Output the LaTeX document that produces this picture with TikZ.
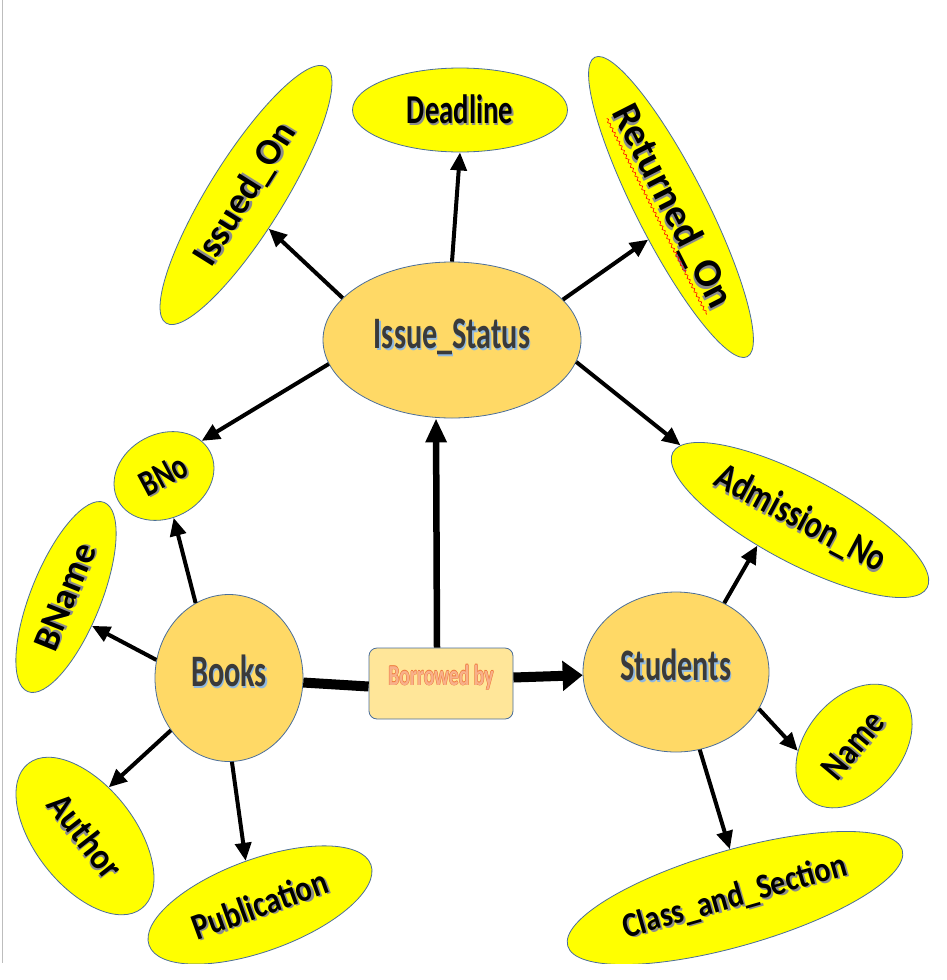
\documentclass[tikz,border=0pt]{standalone}
\usepackage{fontspec}
\setmainfont{Carlito}
\usepackage{graphicx}
\usetikzlibrary{arrows.meta,shapes.geometric,decorations.pathmorphing}
\definecolor{entfill}{HTML}{FFD966}
\definecolor{relfill}{HTML}{FFE699}
\definecolor{attfill}{HTML}{FFFF00}
\definecolor{edgec}{HTML}{4A6E9A}
\definecolor{enttext}{HTML}{3A3A3A}
\definecolor{entshadow}{HTML}{8FB8E0}
\definecolor{attshadow}{HTML}{8C8C8C}
\definecolor{reltext}{HTML}{F8B08A}
\definecolor{relline}{HTML}{EE7A3C}
\definecolor{framec}{HTML}{BDBDBD}
\newcommand\shtext[4]{\scalebox{#2}[1]{\fontsize{#1}{#1}\selectfont\bfseries\rlap{\kern2pt\raisebox{-2pt}{\textcolor{#3}{#4}}}#4}}
\newcommand\rtext[1]{\scalebox{0.68}[1]{\fontsize{29pt}{29pt}\selectfont\bfseries\rlap{\kern0.7pt\textcolor{relline}{#1}}\rlap{\kern-0.7pt\textcolor{relline}{#1}}\rlap{\raisebox{0.7pt}{\textcolor{relline}{#1}}}\rlap{\raisebox{-0.7pt}{\textcolor{relline}{#1}}}\textcolor{reltext}{#1}}}
\begin{document}
\begin{tikzpicture}[x=1pt,y=-1pt,
  ent/.style={ellipse, draw=edgec, line width=0.8pt, fill=entfill, inner sep=0pt, text=enttext, text height=30pt, text depth=14pt},
  att/.style={ellipse, draw=edgec, line width=0.8pt, fill=attfill, inner sep=0pt, text=black},
  rel/.style={rectangle, rounded corners=8pt, draw=edgec, line width=0.8pt, fill=relfill, inner sep=0pt},
  arr/.style={line width=4pt, -{Triangle[length=18pt,width=16pt]}},
  arrb/.style={line width=6.5pt, -{Triangle[length=24pt,width=20pt]}},
  arrc/.style={line width=10pt, -{Triangle[length=20pt,width=29pt]}},
  linkc/.style={line width=10pt},
  squig/.style={red, line width=0.6pt, decorate, decoration={snake, amplitude=1.2pt, segment length=5pt}}]
\useasboundingbox (0,0) rectangle (946,980);
\fill[white] (0,0) rectangle (946,980);
\draw[framec, line width=1pt] (2,0) -- (2,963);
\begin{scope}
\clip (0,0) rectangle (946,963);
% entities and relationship
\node[ent, minimum width=258pt, minimum height=156pt] (is) at (452,340) {\shtext{45pt}{0.67}{entshadow}{Issue\_Status}};
\node[ent, minimum width=148pt, minimum height=167pt] (books) at (229,678) {\shtext{45pt}{0.67}{entshadow}{Books}};
\node[ent, minimum width=186pt, minimum height=160pt] (stu) at (676,672) {\shtext{45pt}{0.67}{entshadow}{Students}};
\node[rel, minimum width=144pt, minimum height=71pt, text height=20pt, text depth=17pt] (bb) at (441,683.5) {\rtext{Borrowed by}};
% attributes
\node[att, minimum width=215pt, minimum height=84pt] (dl) at (460,110) {\shtext{41pt}{0.7}{attshadow}{Deadline}};
\node[att, rotate=58, minimum width=302pt, minimum height=74pt] (iss) at (246,195) {\shtext{37pt}{1}{attshadow}{Issued\_On}};
\node[att, rotate=-63, minimum width=336pt, minimum height=70pt] (ret) at (671,207) {\shtext{40pt}{1}{attshadow}{Returned\_On}};
\node[att, rotate=-28, minimum width=288pt, minimum height=86pt] (adm) at (800,520) {\shtext{39pt}{0.8}{attshadow}{Admission\_No}};
\node[att, rotate=50, minimum width=140pt, minimum height=96pt] (name) at (854,746) {\shtext{37pt}{0.84}{attshadow}{Name}};
\node[att, rotate=28, minimum width=104pt, minimum height=84pt] (bno) at (164,476) {\shtext{37pt}{0.75}{attshadow}{BNo}};
\node[att, rotate=68, minimum width=204pt, minimum height=70pt] (bname) at (66,597) {\shtext{37pt}{1}{attshadow}{BName}};
\node[att, rotate=-52, minimum width=184pt, minimum height=100pt] (auth) at (85,836) {\shtext{37pt}{0.9}{attshadow}{Author}};
\node[att, rotate=20, minimum width=236pt, minimum height=92pt] (pub) at (260,905) {\shtext{37pt}{0.82}{attshadow}{Publication}};
\node[att, rotate=16, minimum width=348pt, minimum height=96pt] (cls) at (735,898) {\shtext{35pt}{0.86}{attshadow}{Class\_and\_Section}};
% spell-check squiggle under Returned_On
\begin{scope}[shift={(ret.center)}, rotate=-63, x=1pt, y=1pt]
\draw[squig] (-108,-17) -- (112,-17);
\end{scope}
% connectors
\draw[arr] (is.159) -- (iss.246);
\draw[arr] (is.north) -- (dl.south);
\draw[arr] (is.20) -- (ret.-62);
\draw[arr] (is.191) -- (bno.15);
\draw[arr] (is.-10) -- (adm.176);
\draw[arrb] ([xshift=-4pt]bb.north) -- ([xshift=-16pt]is.south);
\draw[arr] (books.114) -- (bno.255);
\draw[arr] (books.166) -- (bname.244);
\draw[arr] (books.222) -- (auth.116);
\draw[arr] (books.-88) -- (pub.88);
\draw[linkc] (books) -- ([yshift=-3pt]bb.west);
\draw[arrc] ([yshift=6pt]bb.east) -- (stu);
\draw[arr] (stu.55) -- (adm.239);
\draw[arr] (stu.-24) -- (name.135);
\draw[arr] (stu.-73) -- (cls.80);
\end{scope}
\end{tikzpicture}
\end{document}
